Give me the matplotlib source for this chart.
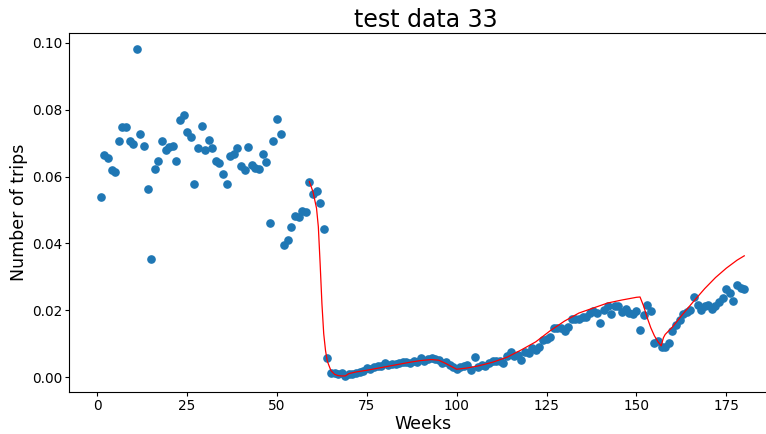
import matplotlib.pyplot as plt
import numpy as np

weeks = np.arange(1, 181)

trips = [
    0.0540, 0.0665, 0.0655, 0.0620, 0.0614, 0.0705, 0.0749, 0.0749, 0.0705, 0.0697,
    0.0981, 0.0727, 0.0692, 0.0564, 0.0354, 0.0623, 0.0647, 0.0705, 0.0678, 0.0689,
    0.0690, 0.0646, 0.0769, 0.0784, 0.0733, 0.0719, 0.0579, 0.0685, 0.0752, 0.0678,
    0.0710, 0.0685, 0.0646, 0.0640, 0.0609, 0.0579, 0.0661, 0.0666, 0.0685, 0.0631,
    0.0620, 0.0689, 0.0635, 0.0625, 0.0623, 0.0667, 0.0644, 0.0462, 0.0707, 0.0771,
    0.0728, 0.0395, 0.0409, 0.0450, 0.0482, 0.0478, 0.0498, 0.0493, 0.0584, 0.0547,
    0.0558, 0.0520, 0.0442, 0.0057, 0.0013, 0.0013, 0.0010, 0.0012, 0.0005, 0.0011,
    0.0011, 0.0013, 0.0015, 0.0018, 0.0027, 0.0026, 0.0030, 0.0033, 0.0035, 0.0042,
    0.0037, 0.0039, 0.0040, 0.0042, 0.0046, 0.0045, 0.0042, 0.0050, 0.0046, 0.0057,
    0.0049, 0.0056, 0.0058, 0.0056, 0.0052, 0.0042, 0.0045, 0.0036, 0.0030, 0.0025,
    0.0030, 0.0034, 0.0038, 0.0022, 0.0062, 0.0030, 0.0037, 0.0035, 0.0042, 0.0050,
    0.0049, 0.0050, 0.0044, 0.0064, 0.0076, 0.0064, 0.0067, 0.0052, 0.0075, 0.0072,
    0.0087, 0.0082, 0.0091, 0.0110, 0.0114, 0.0120, 0.0146, 0.0146, 0.0146, 0.0139,
    0.0151, 0.0173, 0.0173, 0.0173, 0.0181, 0.0180, 0.0191, 0.0197, 0.0191, 0.0163,
    0.0201, 0.0213, 0.0189, 0.0213, 0.0214, 0.0196, 0.0203, 0.0193, 0.0189, 0.0197,
    0.0140, 0.0185, 0.0216, 0.0197, 0.0103, 0.0109, 0.0090, 0.0090, 0.0103, 0.0137,
    0.0156, 0.0171, 0.0188, 0.0196, 0.0201, 0.0241, 0.0216, 0.0201, 0.0213, 0.0217,
    0.0203, 0.0214, 0.0225, 0.0238, 0.0263, 0.0253, 0.0227, 0.0276, 0.0266, 0.0265,
]

# fitted curve from week 59 onwards
fit_weeks = [59, 60, 61, 61.5, 62, 62.5, 63, 63.5, 64, 65, 66, 67, 68, 69, 70,
             72, 75, 78, 81, 84, 87, 90, 93, 95, 97, 100, 103, 106, 110, 114,
             118, 122, 126, 130, 134, 138, 142, 146, 150, 151, 152, 153, 154,
             155, 156, 156.9, 157.5, 158, 160, 163, 166, 169, 172, 175, 178, 180]
fit_trips = [0.0585, 0.0555, 0.0505, 0.0450, 0.0340, 0.0220, 0.0130, 0.0080,
             0.0048, 0.0020, 0.0009, 0.0005, 0.0004, 0.0004, 0.0011,
             0.0016, 0.0021, 0.0027, 0.0033, 0.0039, 0.0045, 0.0050, 0.0053,
             0.0051, 0.0041, 0.0024, 0.0028, 0.0034, 0.0045, 0.0060,
             0.0082, 0.0106, 0.0139, 0.0168, 0.0192, 0.0207, 0.0222, 0.0231,
             0.0239, 0.0240, 0.0213, 0.0178, 0.0148, 0.0124, 0.0106, 0.0094,
             0.0118, 0.0128, 0.0150, 0.0190, 0.0228, 0.0265, 0.0298, 0.0326,
             0.0350, 0.0363]

fig = plt.figure(figsize=(7.66, 4.34), dpi=100)
ax = fig.add_axes([0.0897, 0.0961, 0.9239, 0.8286])

ax.scatter(weeks, trips, s=27, color='tab:blue')
ax.plot(fit_weeks, fit_trips, color='red', linewidth=0.9)

ax.set_title('test data 33', fontsize=17, pad=3.9, x=0.505)
ax.set_xlabel('Weeks', fontsize=12.5, labelpad=1.5)
ax.set_ylabel('Number of trips', fontsize=12.5, labelpad=2.5)
ax.set_xticks([0, 25, 50, 75, 100, 125, 150, 175])
ax.set_yticks([0.0, 0.02, 0.04, 0.06, 0.08, 0.10])
ax.tick_params(labelsize=9.8, length=3.2, pad=1.5)

fig.savefig('out.png', dpi=100)
